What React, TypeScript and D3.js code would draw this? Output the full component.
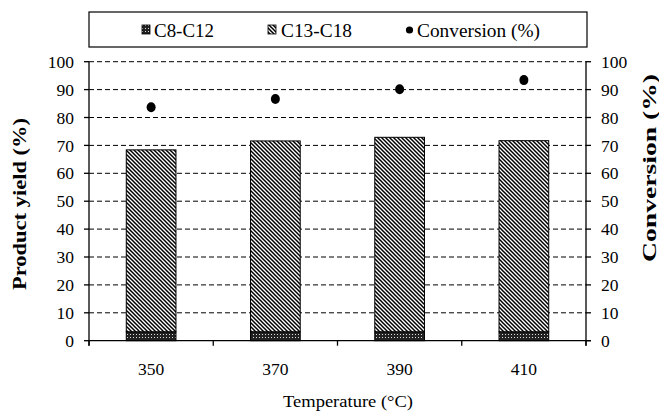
import React from "react";
import * as d3 from "d3";

// temperatures (°C)
const categories = ["350", "370", "390", "410"];
// product yield (%)
const c8c12 = [3.2, 3.2, 3.2, 3.2];
const c13c18 = [65.2, 68.4, 69.7, 68.5];
// conversion (%)
const conversion = [83.7, 86.6, 90.1, 93.4];
const yTicks = [0, 10, 20, 30, 40, 50, 60, 70, 80, 90, 100];

const W = 659;
const H = 412;
const left = 89;
const right = 586;
const top = 61.7;
const bottom = 340.7;
const font = "'Liberation Serif', 'Times New Roman', Times, serif";

export default function App() {
  const x = d3
    .scaleBand()
    .domain(categories)
    .range([left, right])
    .paddingInner(0.6)
    .paddingOuter(0.3);
  const y = d3.scaleLinear().domain([0, 100]).range([bottom, top]);
  const y2 = d3.scaleLinear().domain([0, 100]).range([bottom, top]);

  // stacked values
  const stacked = d3
    .stack<any>()
    .keys(["a", "b"])(categories.map((c, i) => ({ c, a: c8c12[i], b: c13c18[i] })));

  const step = x.step();
  const bounds = categories.map((c) => (x(c) as number) - step * 0.3);
  bounds.push(right);

  return (
    <svg
      width={W}
      height={H}
      style={{ position: "absolute", left: 0, top: 0, background: "#fff", fontFamily: font }}
    >
      <defs>
        <pattern id="stripes" patternUnits="userSpaceOnUse" width={4} height={4}>
          <rect width={4} height={4} fill="#fff" />
          <path d="M-1,-1 L5,5 M-1,3 L1,5 M3,-1 L5,1" stroke="#000" strokeWidth={1.5} />
        </pattern>
        <pattern id="dots" patternUnits="userSpaceOnUse" width={3} height={3}>
          <rect width={3} height={3} fill="#222" />
          <rect x={1} y={1} width={1} height={1} fill="#ddd" />
        </pattern>
      </defs>

      {/* legend */}
      <rect x={89} y={12} width={498} height={35} fill="#fff" stroke="#000" strokeWidth={1.2} />
      <g style={{ fontFamily: font }} fontSize={19} fill="#000">
        <rect x={142} y={25} width={8} height={9} fill="url(#dots)" stroke="#000" strokeWidth={0.8} />
        <text x={154} y={36.5} textLength={60} lengthAdjust="spacingAndGlyphs">C8-C12</text>
        <rect x={268} y={25} width={8} height={9} fill="url(#stripes)" stroke="#000" strokeWidth={0.8} />
        <text x={281} y={36.5} textLength={71} lengthAdjust="spacingAndGlyphs">C13-C18</text>
        <circle cx={409.5} cy={30} r={3.6} fill="#000" />
        <text x={417} y={36.5} textLength={123} lengthAdjust="spacingAndGlyphs">Conversion (%)</text>
      </g>

      {/* gridlines */}
      {yTicks
        .filter((t) => t > 0)
        .map((t) => (
          <line
            key={t}
            x1={left}
            x2={right}
            y1={y(t)}
            y2={y(t)}
            stroke="#000"
            strokeWidth={1}
            strokeDasharray="5,3"
          />
        ))}

      {/* bars */}
      {stacked.map((s, si) =>
        s.map((d, i) => (
          <rect
            key={si + "-" + i}
            x={x(categories[i])}
            y={y(d[1])}
            width={x.bandwidth()}
            height={y(d[0]) - y(d[1])}
            fill={si === 0 ? "url(#dots)" : "url(#stripes)"}
            stroke="#000"
            strokeWidth={1}
          />
        ))
      )}

      {/* conversion points */}
      {conversion.map((v, i) => (
        <ellipse
          key={i}
          cx={(x(categories[i]) as number) + x.bandwidth() / 2}
          cy={y2(v)}
          rx={4.5}
          ry={5}
          fill="#000"
        />
      ))}

      {/* axes */}
      <g stroke="#000" strokeWidth={1.3}>
        <line x1={left} x2={left} y1={top} y2={bottom + 5} />
        <line x1={right} x2={right} y1={top} y2={bottom + 5} />
        <line x1={left} x2={right + 5} y1={bottom} y2={bottom} />
        {bounds.map((b, i) => (
          <line key={i} x1={b} x2={b} y1={bottom} y2={bottom + 5} />
        ))}
        {yTicks.map((t) => (
          <g key={t}>
            <line x1={left - 5} x2={left} y1={y(t)} y2={y(t)} />
            <line x1={right} x2={right + 5} y1={y2(t)} y2={y2(t)} />
          </g>
        ))}
      </g>

      <g style={{ fontFamily: font }} fontSize={17.5} fill="#000">
        {yTicks.map((t) => (
          <text key={"l" + t} x={74} y={y(t)} dy="0.35em" textAnchor="end">
            {t}
          </text>
        ))}
        {yTicks.map((t) => (
          <text key={"r" + t} x={601} y={y2(t)} dy="0.35em" textAnchor="start">
            {t}
          </text>
        ))}
        {categories.map((c) => (
          <text
            key={c}
            x={(x(c) as number) + x.bandwidth() / 2}
            y={369}
            dy="0.35em"
            textAnchor="middle"
          >
            {c}
          </text>
        ))}
        <text x={348} y={401} dy="0.35em" textAnchor="middle" textLength={130} lengthAdjust="spacingAndGlyphs">
          Temperature (°C)
        </text>
      </g>

      <g style={{ fontFamily: font }} fontSize={18} fontWeight="bold" fill="#000">
        <text
          transform="translate(19.5,204) rotate(-90)"
          dy="0.35em"
          textAnchor="middle"
          textLength={172}
          lengthAdjust="spacingAndGlyphs"
        >
          Product yield (%)
        </text>
        <text
          transform="translate(650,168) rotate(-90)"
          dy="0.35em"
          textAnchor="middle"
          textLength={188}
          lengthAdjust="spacingAndGlyphs"
        >
          Conversion (%)
        </text>
      </g>
    </svg>
  );
}
